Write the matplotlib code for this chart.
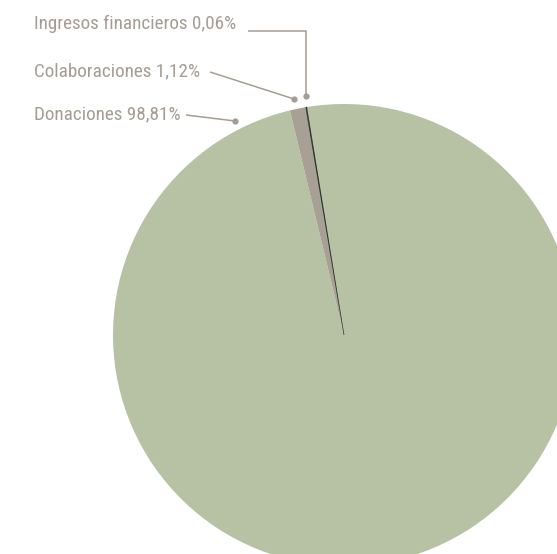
import matplotlib
matplotlib.use("Agg")
import matplotlib.pyplot as plt

# data
labels = ["Donaciones", "Colaboraciones", "Ingresos financieros"]
values = [98.81, 1.12, 0.06]
pct_text = ["98,81%", "1,12%", "0,06%"]
colors = ["#b6c2a3", "#a89f95", "#2e3a2e"]

W, H = 557, 554
txt_color = "#a59d94"

fig = plt.figure(figsize=(W / 100, H / 100), dpi=100)
ax = fig.add_axes([0, 0, 1, 1])

wedges, _ = ax.pie(values, colors=colors, startangle=99.3, counterclock=False,
                   center=(344, H - 335), radius=231,
                   wedgeprops=dict(linewidth=0))
wedges[2].set_edgecolor(colors[2])
wedges[2].set_linewidth(0.5)

ax.set_xlim(0, W)
ax.set_ylim(0, H)
ax.set_aspect("auto")
ax.axis("off")

def Y(y):
    return H - y

# text y and leader line points (pixel coords from top)
label_y = [114, 71, 24]
leaders = [
    [(186, 115), (235, 121)],
    [(210, 72), (294, 99)],
    [(248, 31), (306, 31), (306, 96)],
]

for lab, pct, ty, pts in zip(labels, pct_text, label_y, leaders):
    ax.text(34, Y(ty), f"{lab} {pct}", color=txt_color, fontsize=13.8,
            family=["Roboto Condensed", "Liberation Sans Narrow", "DejaVu Sans"],
            fontstretch="condensed", ha="left", va="center")
    xs = [p[0] for p in pts]
    ys = [Y(p[1]) for p in pts]
    ax.plot(xs, ys, color=txt_color, lw=1.1, solid_capstyle="butt")
    ax.plot(xs[-1], ys[-1], "o", color=txt_color, ms=4.5, mew=0)

fig.savefig("out.png", dpi=100)
